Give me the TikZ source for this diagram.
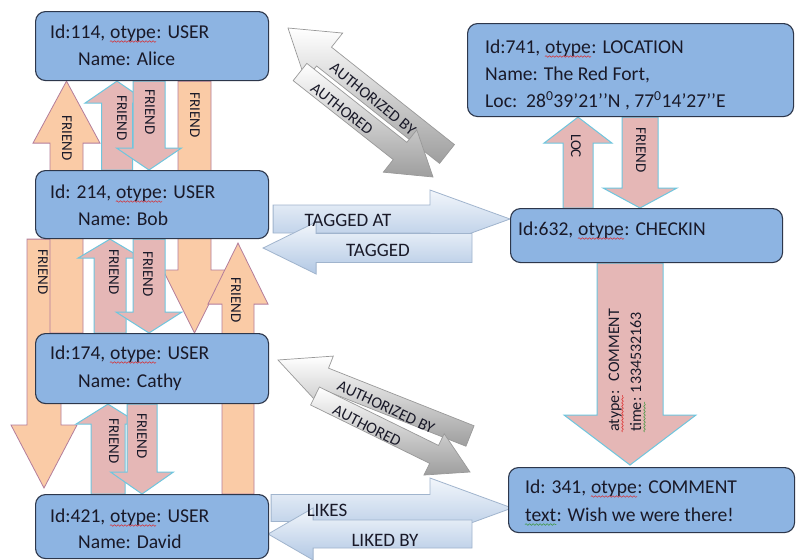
\documentclass[tikz,border=0pt]{standalone}
\usepackage{fontspec}
\setmainfont{Carlito}
\usetikzlibrary{calc,decorations.pathmorphing}
\pgfdeclarelayer{bgl}
\pgfdeclarelayer{arrl}
\pgfsetlayers{bgl,arrl,main}

% #1 style, #2 tail, #3 tip, #4 shaft half width, #5 head half width, #6 head length
\newcommand\blockarrow[6]{%
  \coordinate (dT) at (#2);
  \coordinate (dP) at (#3);
  \coordinate (dB) at ($(dP)!#6pt!(dT)$);
  \path[#1] ($(dT)!#4pt!90:(dP)$) -- ($(dB)!#4pt!90:(dP)$) -- ($(dB)!#5pt!90:(dP)$) -- (dP)
    -- ($(dB)!#5pt!-90:(dP)$) -- ($(dB)!#4pt!-90:(dP)$) -- ($(dT)!#4pt!-90:(dP)$) -- cycle;}

% box line with a wavy-underlined word: #1 name, #2 baseline start, #3 prefix, #4 word, #5 suffix, #6 wave colour
\newcommand\wtxt[6]{%
  \node[bxtxt, anchor=base west] (#1a) at (#2) {#3};
  \node[bxtxt, anchor=base west] (#1b) at ($(#1a.base east)+(4.4,0)$) {#4};
  \node[bxtxt, anchor=base west] (#1c) at (#1b.base east) {#5};
  \draw[wave=#6] ($(#1b.base west)+(0,3.5)$) -- ($(#1b.base east)+(0,3.5)$);}

\definecolor{boxfill}{RGB}{141,180,226}
\definecolor{boxline}{RGB}{45,55,75}
\definecolor{orfill}{RGB}{250,203,166}
\definecolor{orline}{RGB}{180,125,155}
\definecolor{pkfill}{RGB}{229,183,182}
\definecolor{pkline}{RGB}{110,198,222}
\definecolor{bltop}{RGB}{242,246,251}
\definecolor{blbot}{RGB}{178,200,228}
\definecolor{blline}{RGB}{160,180,205}
\definecolor{txtcol}{RGB}{25,25,40}
\definecolor{wred}{RGB}{220,40,40}
\definecolor{wgreen}{RGB}{60,150,60}

\tikzset{
  box/.style={draw=boxline, line width=1.1pt, fill=boxfill, rounded corners=10pt, inner sep=0pt, anchor=north west},
  bxtxt/.style={font=\fontsize{19.6}{22}\selectfont, text=txtcol, inner sep=0pt, anchor=west},
  wave/.style={draw=#1, line width=0.5pt, decorate, decoration={snake, amplitude=0.8pt, segment length=3.5pt}},
  orangearr/.style={fill=orfill, draw=orline, line width=0.8pt, line join=miter},
  pinkarr/.style={fill=pkfill, draw=pkline, line width=1pt, line join=miter},
  greyarr/.style={top color=white, bottom color=black!38, draw=black!40, line width=0.7pt},
  bluearr/.style={top color=bltop, bottom color=blbot, draw=blline, line width=0.8pt},
  vlab/.style={font=\fontsize{15}{18}\selectfont, text=txtcol, inner sep=0pt, rotate=-90},
  ulab/.style={font=\fontsize{16}{19}\selectfont, text=txtcol, inner sep=0pt, rotate=90, anchor=base west},
  hlab/.style={font=\fontsize{19}{22}\selectfont, text=txtcol, inner sep=0pt},
  dlab/.style={font=\fontsize{16}{19}\selectfont, text=txtcol, inner sep=0pt},
}

\begin{document}
\begin{tikzpicture}[x=1pt, y=-1pt]
\useasboundingbox (0,0) rectangle (796,560);
\begin{pgfonlayer}{bgl}
  \fill[white] (0,0) rectangle (796,560);
\end{pgfonlayer}

% ---------- boxes ----------
\node[box, minimum width=233pt, minimum height=69pt] (alice) at (35,11) {};
\node[box, minimum width=233pt, minimum height=68pt] (bob) at (35,170) {};
\node[box, minimum width=233pt, minimum height=70pt] (cathy) at (35,333) {};
\node[box, minimum width=233pt, minimum height=64pt] (david) at (35,494) {};
\node[box, minimum width=326pt, minimum height=93pt] (location) at (467,23) {};
\node[box, minimum width=272pt, minimum height=54pt] (checkin) at (510,208) {};
\node[box, minimum width=286pt, minimum height=65pt] (comment) at (508,467) {};

\wtxt{alice1}{50,38}{Id:114,}{otype}{: USER}{wred}
\node[bxtxt] (alice2) at (78,59) {Name: Alice};
\wtxt{bob1}{50,198}{Id: 214,}{otype}{: USER}{wred}
\node[bxtxt] (bob2) at (78,219) {Name: Bob};
\wtxt{cathy1}{50,359}{Id:174,}{otype}{: USER}{wred}
\node[bxtxt] (cathy2) at (78,382) {Name: Cathy};
\wtxt{david1}{50,522}{Id:421,}{otype}{: USER}{wred}
\node[bxtxt] (david2) at (78,542) {Name: David};
\wtxt{loc1}{485,53}{Id:741,}{otype}{: LOCATION}{wred}
\node[bxtxt] (loc2) at (485,75) {Name: The Red Fort,};
\node[bxtxt] (loc3) at (485,101) {Loc:\ \ 28\textsuperscript{0}39’21’’N , 77\textsuperscript{0}14’27’’E};
\wtxt{chk1}{518,235}{Id:632,}{otype}{: CHECKIN}{wred}
\wtxt{com1}{525,493}{Id: 341,}{otype}{: COMMENT}{wred}
\node[bxtxt, anchor=base west] (com2a) at (525,521) {text};
\node[bxtxt, anchor=base west] (com2b) at (com2a.base east) {: Wish we were there!};
\draw[wave=wgreen] ($(com2a.base west)+(0,3.5)$) -- ($(com2a.base east)+(0,3.5)$);

% ---------- arrows ----------
\begin{pgfonlayer}{arrl}
  % diagonal grey pairs
  \coordinate (d1t) at (447,154);  \coordinate (d1p) at (288,28);
  \coordinate (d2t) at (300,72);   \coordinate (d2p) at (433,177);
  \coordinate (d3t) at (470,436);  \coordinate (d3p) at (278,360);
  \coordinate (d4t) at (315,396);  \coordinate (d4p) at (470,472);
  \blockarrow{greyarr}{d1t}{d1p}{12}{30}{46}
  \blockarrow{greyarr}{d2t}{d2p}{11}{27}{42}
  \blockarrow{greyarr}{d3t}{d3p}{11}{24}{50}
  \blockarrow{greyarr}{d4t}{d4p}{10}{23}{40}
  % horizontal blue pairs
  \coordinate (tagtail) at (472,248);
  \coordinate (liketail) at (472,534);
  \blockarrow{bluearr}{$(bob.east |- 0,219)+(4,0)$}{checkin.west |- 0,219}{14}{29}{80}
  \blockarrow{bluearr}{tagtail}{$(bob.east |- 0,248)+(-6,0)$}{14.5}{26}{53}
  \blockarrow{bluearr}{$(david.east |- 0,508)+(2,0)$}{$(comment.west |- 0,508)+(4,0)$}{13.5}{30}{82}
  \blockarrow{bluearr}{liketail}{$(david.east |- 0,534)+(-1,0)$}{14}{26}{45}
  % user column
  \blockarrow{orangearr}{44,0 |- bob.south}{$(44,0 |- david.north)+(0,-6)$}{17}{33}{63}
  \blockarrow{orangearr}{66.5,0 |- cathy.north}{66.5,0 |- alice.south}{16.5}{33.5}{62}
  \blockarrow{orangearr}{194.5,0 |- alice.south}{194.5,0 |- cathy.north}{16.5}{31.5}{63}
  \blockarrow{orangearr}{238,0 |- david.north}{$(238,0 |- bob.south)+(0,4)$}{16}{30}{61}
  \blockarrow{pinkarr}{117,0 |- bob.north}{117,0 |- alice.south}{15.5}{32}{22}
  \blockarrow{pinkarr}{149,0 |- alice.south}{149,0 |- bob.north}{16}{32.5}{22}
  \blockarrow{pinkarr}{110,0 |- cathy.north}{110,0 |- bob.south}{16}{32}{19}
  \blockarrow{pinkarr}{149,0 |- bob.south}{149,0 |- cathy.north}{16}{33}{21}
  \blockarrow{pinkarr}{108,0 |- david.north}{108,0 |- cathy.south}{17}{32}{20}
  \blockarrow{pinkarr}{142,0 |- cathy.south}{142,0 |- david.north}{15}{31.5}{22}
  % right column
  \blockarrow{pinkarr}{578,0 |- checkin.north}{578,0 |- location.south}{15}{34}{26}
  \blockarrow{pinkarr}{640,0 |- location.south}{640,0 |- checkin.north}{18}{37}{20}
  \blockarrow{pinkarr}{630,0 |- checkin.south}{$(630,0 |- comment.north)+(0,-2)$}{33}{66}{50}
\end{pgfonlayer}

% ---------- arrow labels ----------
\node[vlab] (fa1) at (67,138) {FRIEND};
\node[vlab] (fa2) at (122,118) {FRIEND};
\node[vlab] (fa3) at (150,112) {FRIEND};
\node[vlab] (fa4) at (195,115) {FRIEND};
\node[vlab] (fb1) at (43,272) {FRIEND};
\node[vlab] (fb2) at (114,272) {FRIEND};
\node[vlab] (fb3) at (148,274) {FRIEND};
\node[vlab] (fb4) at (236,300) {FRIEND};
\node[vlab] (fc1) at (114,441) {FRIEND};
\node[vlab] (fc2) at (142,436) {FRIEND};
\node[vlab] (locl) at (576,146) {LOC};
\node[vlab] (ff1) at (641,150) {FRIEND};

\node[ulab] (atla) at (619,432) {atype};
\node[ulab] (atlb) at (atla.base east) {:};
\node[ulab] (atlc) at ($(atlb.base east)+(0,-9)$) {COMMENT};
\draw[wave=wred] ($(atla.base west)+(3.5,0)$) -- ($(atla.base east)+(3.5,0)$);
\node[ulab] (tmla) at (641,432) {time};
\node[ulab] (tmlb) at (tmla.base east) {:};
\node[ulab] (tmlc) at ($(tmlb.base east)+(0,-4)$) {1334532163};
\draw[wave=wgreen] ($(tmla.base west)+(3.5,0)$) -- ($(tmla.base east)+(3.5,0)$);

\node[hlab] (tagat) at (348,220) {TAGGED AT};
\node[hlab] (tag) at (378,250) {TAGGED};
\node[hlab] (likes) at (327,510) {LIKES};
\node[hlab] (likedby) at (385,540) {LIKED BY};

\node[dlab, rotate=-39] (auz1) at (373,99) {AUTHORIZED BY};
\node[dlab, rotate=-38] (aud1) at (342,109) {AUTHORED};
\node[dlab, rotate=-25] (auz2) at (386,407) {AUTHORIZED BY};
\node[dlab, rotate=-27] (aud2) at (367,426) {AUTHORED};
\end{tikzpicture}
\end{document}
